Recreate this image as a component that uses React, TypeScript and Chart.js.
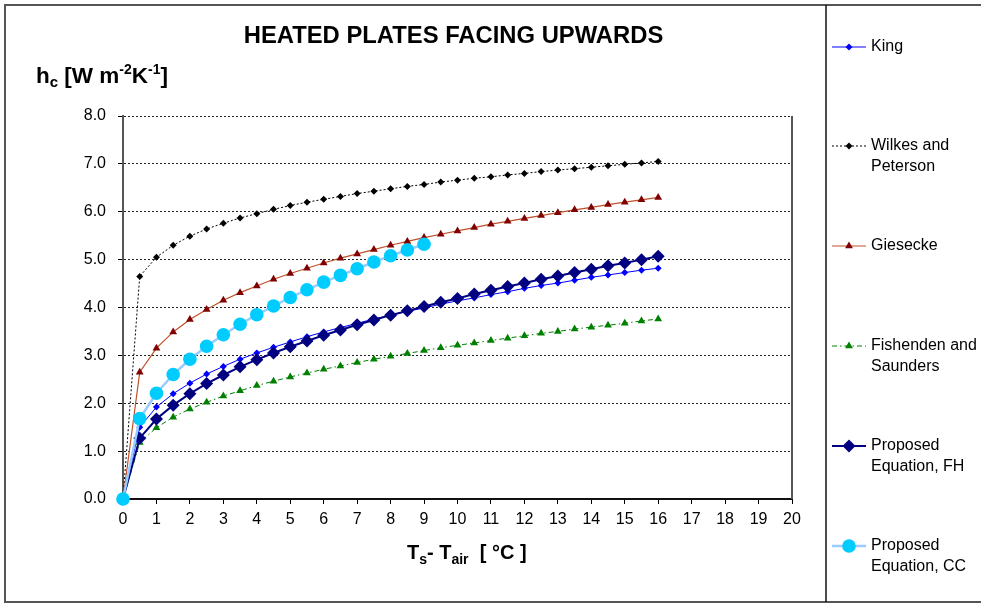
import React, { useEffect, useRef } from "react";
import { Chart, registerables } from "chart.js";

Chart.register(...registerables);

// ---- data ----
const deltaT = [0, 0.5, 1, 1.5, 2, 2.5, 3, 3.5, 4, 4.5, 5, 5.5, 6, 6.5, 7, 7.5, 8, 8.5, 9, 9.5, 10, 10.5, 11, 11.5, 12, 12.5, 13, 13.5, 14, 14.5, 15, 15.5, 16];
const deltaTCC = [0, 0.5, 1, 1.5, 2, 2.5, 3, 3.5, 4, 4.5, 5, 5.5, 6, 6.5, 7, 7.5, 8, 8.5, 9];

const king = [0, 1.50, 1.92, 2.20, 2.42, 2.61, 2.77, 2.92, 3.05, 3.17, 3.28, 3.39, 3.49, 3.58, 3.67, 3.76, 3.84, 3.92, 3.99, 4.07, 4.14, 4.20, 4.27, 4.33, 4.40, 4.46, 4.51, 4.57, 4.63, 4.68, 4.73, 4.78, 4.82];
const wilkesPeterson = [0, 4.65, 5.05, 5.30, 5.49, 5.64, 5.76, 5.87, 5.96, 6.05, 6.13, 6.20, 6.26, 6.32, 6.38, 6.43, 6.48, 6.53, 6.57, 6.62, 6.66, 6.70, 6.73, 6.77, 6.80, 6.84, 6.87, 6.90, 6.93, 6.96, 6.99, 7.02, 7.05];
const giesecke = [0, 2.65, 3.15, 3.49, 3.75, 3.96, 4.15, 4.31, 4.45, 4.59, 4.71, 4.82, 4.93, 5.03, 5.12, 5.21, 5.30, 5.38, 5.46, 5.53, 5.60, 5.67, 5.74, 5.80, 5.86, 5.92, 5.98, 6.04, 6.09, 6.15, 6.20, 6.25, 6.30];
const fishendenSaunders = [0, 1.18, 1.49, 1.71, 1.88, 2.02, 2.15, 2.26, 2.37, 2.46, 2.55, 2.63, 2.71, 2.78, 2.85, 2.92, 2.98, 3.04, 3.10, 3.16, 3.21, 3.26, 3.31, 3.36, 3.41, 3.46, 3.50, 3.55, 3.59, 3.63, 3.67, 3.72, 3.76];
const proposedFH = [0, 1.27, 1.67, 1.96, 2.20, 2.41, 2.59, 2.76, 2.91, 3.05, 3.18, 3.30, 3.42, 3.53, 3.64, 3.74, 3.84, 3.93, 4.02, 4.11, 4.19, 4.28, 4.36, 4.44, 4.51, 4.59, 4.66, 4.73, 4.80, 4.87, 4.93, 5.00, 5.07];
const proposedCC = [0, 1.68, 2.21, 2.60, 2.92, 3.19, 3.43, 3.65, 3.85, 4.03, 4.21, 4.37, 4.53, 4.67, 4.81, 4.95, 5.08, 5.20, 5.32];

const xTicks = [0, 1, 2, 3, 4, 5, 6, 7, 8, 9, 10, 11, 12, 13, 14, 15, 16, 17, 18, 19, 20];
const yTicks = [0, 1, 2, 3, 4, 5, 6, 7, 8];

const titleText = "HEATED PLATES FACING UPWARDS";
const legendLabels = [["King"], ["Wilkes and", "Peterson"], ["Giesecke"], ["Fishenden and", "Saunders"], ["Proposed", "Equation, FH"], ["Proposed", "Equation, CC"]];

const FONT = "'Liberation Sans', Arial, sans-serif";

const pts = (xs: number[], ys: number[]) => xs.map((x, i) => ({ x, y: ys[i] }));

type Part = { t: string; size: number; dy: number };

function drawRich(ctx: CanvasRenderingContext2D, x: number, y: number, parts: Part[]) {
  let cx = x;
  ctx.textBaseline = "alphabetic";
  ctx.textAlign = "left";
  for (const p of parts) {
    ctx.font = `bold ${p.size}px ${FONT}`;
    ctx.fillText(p.t, cx, y + p.dy);
    cx += ctx.measureText(p.t).width;
  }
}

function drawMarker(ctx: CanvasRenderingContext2D, style: string, x: number, y: number, r: number, color: string) {
  ctx.save();
  ctx.fillStyle = color;
  ctx.beginPath();
  if (style === "rectRot") {
    ctx.moveTo(x, y - r);
    ctx.lineTo(x + r, y);
    ctx.lineTo(x, y + r);
    ctx.lineTo(x - r, y);
    ctx.closePath();
  } else if (style === "triangle") {
    const h = r * 1.5;
    ctx.moveTo(x, y - h * 0.66);
    ctx.lineTo(x + r * 0.87, y + h * 0.34);
    ctx.lineTo(x - r * 0.87, y + h * 0.34);
    ctx.closePath();
  } else {
    ctx.arc(x, y, r, 0, Math.PI * 2);
  }
  ctx.fill();
  ctx.restore();
}

const decorPlugin = {
  id: "decor",
  beforeDraw(chart: any) {
    const ctx = chart.ctx as CanvasRenderingContext2D;
    ctx.save();
    ctx.fillStyle = "#ffffff";
    ctx.fillRect(0, 0, chart.width, chart.height);
    ctx.restore();
  },
  afterDraw(chart: any) {
    const ctx = chart.ctx as CanvasRenderingContext2D;
    const area = chart.chartArea;
    ctx.save();
    // outer frame
    ctx.strokeStyle = "#555555";
    ctx.lineWidth = 2;
    ctx.strokeRect(5, 5, chart.width + 10, 597);
    // legend panel border
    ctx.strokeStyle = "#111111";
    ctx.lineWidth = 1.5;
    ctx.beginPath();
    ctx.moveTo(826, 5);
    ctx.lineTo(826, 602);
    ctx.stroke();
    // plot area right border
    ctx.strokeStyle = "#555555";
    ctx.lineWidth = 2;
    ctx.beginPath();
    ctx.moveTo(area.right, area.top);
    ctx.lineTo(area.right, area.bottom);
    ctx.stroke();

    ctx.fillStyle = "#000000";
    // title
    ctx.font = `bold 23.8px ${FONT}`;
    ctx.textAlign = "center";
    ctx.textBaseline = "alphabetic";
    ctx.fillText(titleText, 453.5, 43);
    // y-axis title
    drawRich(ctx, 36, 83, [
      { t: "h", size: 22.5, dy: 0 },
      { t: "c", size: 15, dy: 4 },
      { t: " [W m", size: 22.5, dy: 0 },
      { t: "-2", size: 14, dy: -9 },
      { t: "K", size: 22.5, dy: 0 },
      { t: "-1", size: 14, dy: -9 },
      { t: "]", size: 22.5, dy: 0 },
    ]);
    // x-axis title
    drawRich(ctx, 407, 559, [
      { t: "T", size: 20, dy: 0 },
      { t: "s", size: 14, dy: 5 },
      { t: "- ", size: 20, dy: 0 },
      { t: "T", size: 20, dy: 0 },
      { t: "air", size: 14, dy: 5 },
      { t: "  [ °C ]", size: 20, dy: 0 },
    ]);

    // legend
    const rowY = [47, 146, 246, 346, 446, 546];
    chart.data.datasets.forEach((ds: any, i: number) => {
      const y = rowY[i];
      ctx.save();
      ctx.strokeStyle = ds.borderColor;
      ctx.lineWidth = ds.borderWidth;
      ctx.setLineDash(ds.borderDash || []);
      ctx.beginPath();
      ctx.moveTo(832, y);
      ctx.lineTo(866, y);
      ctx.stroke();
      ctx.restore();
      drawMarker(ctx, ds.pointStyle, 849, y, ds.pointRadius, ds.pointBackgroundColor);
      ctx.fillStyle = "#000000";
      ctx.font = `16px ${FONT}`;
      ctx.textAlign = "left";
      ctx.textBaseline = "middle";
      legendLabels[i].forEach((line, j) => {
        ctx.fillText(line, 871, y + j * 20.5);
      });
    });
    ctx.restore();
  },
};

export default function App() {
  const canvasRef = useRef<HTMLCanvasElement | null>(null);

  useEffect(() => {
    document.body.style.margin = "0";
    const canvas = canvasRef.current;
    if (!canvas) return;
    const chart = new Chart(canvas, {
      type: "line",
      data: {
        datasets: [
          {
            label: "King",
            data: pts(deltaT, king),
            borderColor: "#0000FF",
            borderWidth: 1,
            pointStyle: "rectRot",
            pointRadius: 3.5,
            pointBackgroundColor: "#0000FF",
            pointBorderColor: "#0000FF",
            pointBorderWidth: 0,
            order: 6,
          },
          {
            label: "Wilkes and Peterson",
            data: pts(deltaT, wilkesPeterson),
            borderColor: "#000000",
            borderWidth: 1,
            borderDash: [2, 2],
            pointStyle: "rectRot",
            pointRadius: 3.5,
            pointBackgroundColor: "#000000",
            pointBorderColor: "#000000",
            pointBorderWidth: 0,
            order: 5,
          },
          {
            label: "Giesecke",
            data: pts(deltaT, giesecke),
            borderColor: "#C0502A",
            borderWidth: 1.2,
            pointStyle: "triangle",
            pointRadius: 4.5,
            pointBackgroundColor: "#800000",
            pointBorderColor: "#800000",
            pointBorderWidth: 0,
            order: 4,
          },
          {
            label: "Fishenden and Saunders",
            data: pts(deltaT, fishendenSaunders),
            borderColor: "#008000",
            borderWidth: 1,
            borderDash: [5, 3, 1.5, 3],
            pointStyle: "triangle",
            pointRadius: 4.5,
            pointBackgroundColor: "#008000",
            pointBorderColor: "#008000",
            pointBorderWidth: 0,
            order: 3,
          },
          {
            label: "Proposed Equation, FH",
            data: pts(deltaT, proposedFH),
            borderColor: "#000080",
            borderWidth: 2,
            pointStyle: "rectRot",
            pointRadius: 6.5,
            pointBackgroundColor: "#000080",
            pointBorderColor: "#000080",
            pointBorderWidth: 0,
            order: 2,
          },
          {
            label: "Proposed Equation, CC",
            data: pts(deltaTCC, proposedCC),
            borderColor: "#99CCFF",
            borderWidth: 2.5,
            pointStyle: "circle",
            pointRadius: 6.8,
            pointBackgroundColor: "#00CCFF",
            pointBorderColor: "#00CCFF",
            pointBorderWidth: 0,
            order: 1,
          },
        ] as any,
      },
      options: {
        responsive: false,
        animation: false,
        devicePixelRatio: 1,
        layout: { padding: { left: 0, top: 116, right: 189, bottom: 0 } },
        plugins: {
          legend: { display: false },
          title: { display: false },
          tooltip: { enabled: false },
        },
        elements: { line: { tension: 0 } },
        datasets: { line: { clip: false } as any },
        scales: {
          x: {
            type: "linear",
            min: 0,
            max: 20,
            afterFit: (s: any) => { s.height = 105; },
            afterBuildTicks: (s: any) => { s.ticks = xTicks.map((v) => ({ value: v })); },
            ticks: {
              color: "#000000",
              font: { family: FONT, size: 16 },
              padding: 6,
              maxRotation: 0,
              autoSkip: false,
            },
            grid: {
              drawOnChartArea: false,
              drawTicks: true,
              tickLength: 5,
              color: "#000000",
              lineWidth: 1,
            },
            border: { display: true, color: "#111111", width: 2 },
          },
          y: {
            type: "linear",
            min: 0,
            max: 8,
            afterFit: (s: any) => { s.width = 123; },
            afterBuildTicks: (s: any) => { s.ticks = yTicks.map((v) => ({ value: v })); },
            ticks: {
              color: "#000000",
              font: { family: FONT, size: 16 },
              padding: 12,
              callback: (v: any) => Number(v).toFixed(1),
            },
            grid: {
              color: "#222222",
              lineWidth: 1,
              drawTicks: true,
              tickLength: 5,
              tickColor: "#000000",
              tickBorderDash: [10, 0],
            } as any,
            border: { display: true, color: "#555555", width: 2, dash: [2, 2] },
          },
        },
      },
      plugins: [decorPlugin],
    });
    return () => chart.destroy();
  }, []);

  return (
    <div style={{ width: 981, height: 604, position: "relative" }}>
      <canvas ref={canvasRef} width={981} height={604} style={{ display: "block" }} />
    </div>
  );
}
